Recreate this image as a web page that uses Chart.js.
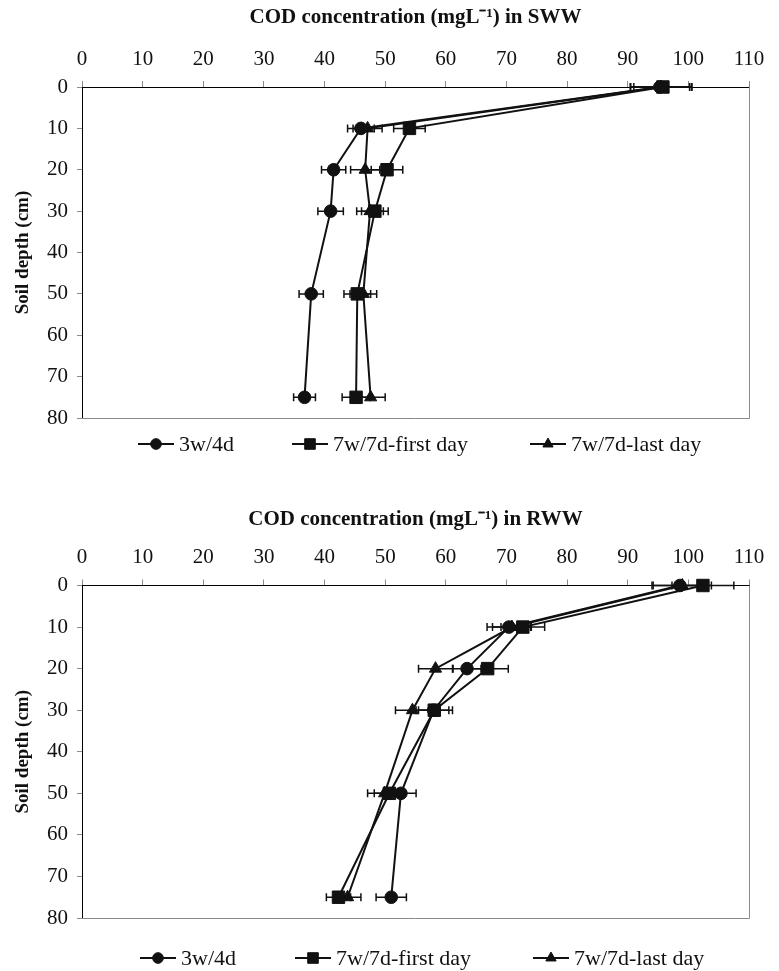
<!DOCTYPE html>
<html>
<head>
<meta charset="utf-8">
<script src="https://cdn.jsdelivr.net/npm/chart.js@4.4.1/dist/chart.umd.min.js"></script>
<style>
  html, body { margin: 0; padding: 0; background: #fff; }
  body { width: 779px; height: 971px; position: relative; overflow: hidden; font-family: "Liberation Serif", serif; }
  .wrap { position: absolute; left: 0; width: 779px; }
  .legend { position: absolute; left: 0; width: 779px; height: 24px; }
  .item { position: absolute; top: 0; display: flex; align-items: center; font-size: 22px; line-height: 24px; color: #111; white-space: nowrap; }
  .item canvas { margin-right: 5px; }
</style>
</head>
<body>
<div class="wrap" style="top:0;height:485px"><canvas id="sww" width="779" height="485"></canvas></div>
<div class="legend" id="legSww" style="top:432px"></div>
<div class="wrap" style="top:500px;height:471px"><canvas id="rww" width="779" height="471"></canvas></div>
<div class="legend" id="legRww" style="top:946px"></div>

<script>
// soil depths (cm) sampled, shared by both panels
const depths = [0, 10, 20, 30, 50, 75];
const seriesNames = ["3w/4d", "7w/7d-first day", "7w/7d-last day"];
const xTicks = [0, 10, 20, 30, 40, 50, 60, 70, 80, 90, 100, 110];
const yTicks = [0, 10, 20, 30, 40, 50, 60, 70, 80];

// COD in SWW (mg/L) and +/- error
const sww3w4d = [95.3, 46.0, 41.5, 41.0, 37.8, 36.7];
const sww3w4dErr = [4.9, 2.2, 2.0, 2.1, 2.0, 1.8];
const swwFirst = [95.8, 54.0, 50.3, 48.3, 45.4, 45.2];
const swwFirstErr = [4.8, 2.6, 2.6, 2.2, 2.2, 2.3];
const swwLast = [95.5, 47.1, 46.7, 47.5, 46.4, 47.6];
const swwLastErr = [5.0, 2.4, 2.4, 2.2, 2.2, 2.4];

// COD in RWW (mg/L) and +/- error
const rww3w4d = [98.6, 70.4, 63.5, 58.0, 52.6, 51.0];
const rww3w4dErr = [4.6, 3.6, 2.3, 2.5, 2.5, 2.5];
const rwwFirst = [102.4, 72.7, 66.9, 58.1, 50.7, 42.3];
const rwwFirstErr = [5.1, 3.6, 3.4, 3.0, 2.5, 2.0];
const rwwLast = [99.0, 70.9, 58.3, 54.5, 49.9, 43.8];
const rwwLastErr = [4.8, 3.2, 2.8, 2.8, 2.8, 2.2];

const INK = '#111';
const FONT = '"Liberation Serif", "Times New Roman", serif';
const pointStyles = [
  { style: 'circle', radius: 6.3 },
  { style: 'rect', radius: 8.8 },
  { style: 'triangle', radius: 7 }
];
// square on top, triangle at the bottom
const drawOrder = [1, 0, 2];

// horizontal error bars, drawn under the markers
const errorBars = {
  id: 'errorBars',
  beforeDatasetsDraw(chart) {
    const ctx = chart.ctx;
    const xs = chart.scales.x, ys = chart.scales.y;
    ctx.save();
    ctx.strokeStyle = INK;
    ctx.lineWidth = 1.5;
    chart.data.datasets.forEach(ds => {
      ds.data.forEach((p, i) => {
        const e = ds.errors[i];
        const y = ys.getPixelForValue(p.y);
        const x0 = xs.getPixelForValue(p.x - e);
        const x1 = xs.getPixelForValue(p.x + e);
        ctx.beginPath();
        ctx.moveTo(x0, y); ctx.lineTo(x1, y);
        ctx.moveTo(x0, y - 4); ctx.lineTo(x0, y + 4);
        ctx.moveTo(x1, y - 4); ctx.lineTo(x1, y + 4);
        ctx.stroke();
      });
    });
    ctx.restore();
  }
};

// grey right and bottom edges of the plot area
const plotFrame = {
  id: 'plotFrame',
  beforeDatasetsDraw(chart) {
    const { ctx, chartArea: a } = chart;
    ctx.save();
    ctx.strokeStyle = '#8a8a8a';
    ctx.lineWidth = 1;
    ctx.beginPath();
    ctx.moveTo(a.left, Math.round(a.bottom) + 0.5);
    ctx.lineTo(Math.round(a.right) + 0.5, Math.round(a.bottom) + 0.5);
    ctx.lineTo(Math.round(a.right) + 0.5, a.top);
    ctx.stroke();
    ctx.restore();
  }
};

function makeChart(id, legendId, titleText, values, errors, geo) {
  const datasets = values.map((vals, k) => ({
    label: seriesNames[k],
    data: vals.map((v, i) => ({ x: v, y: depths[i] })),
    errors: errors[k],
    showLine: true,
    borderColor: INK,
    backgroundColor: INK,
    borderWidth: 2,
    pointStyle: pointStyles[k].style,
    pointRadius: pointStyles[k].radius,
    pointBorderWidth: 1,
    pointBackgroundColor: INK,
    pointBorderColor: INK,
    tension: 0,
    clip: false,
    order: drawOrder[k]
  }));

  const chart = new Chart(document.getElementById(id), {
    type: 'scatter',
    data: { datasets },
    plugins: [errorBars, plotFrame],
    options: {
      responsive: false,
      animation: false,
      layout: { padding: { left: 0, right: 30, top: 0, bottom: geo.padBottom } },
      plugins: {
        legend: { display: false },
        tooltip: { enabled: false },
        title: {
          display: true,
          text: titleText,
          fullSize: false,
          color: INK,
          font: { family: FONT, size: 21, weight: 'bold', lineHeight: 1.2 },
          padding: { top: geo.titleTop, bottom: 0 }
        }
      },
      scales: {
        x: {
          type: 'linear',
          position: 'top',
          min: 0, max: 110,
          afterBuildTicks: s => { s.ticks = xTicks.map(v => ({ value: v })); },
          afterFit: s => { s.height = geo.xAxisHeight; },
          border: { color: '#000', width: 1 },
          grid: { drawOnChartArea: false, drawTicks: true, tickLength: 6, color: '#8a8a8a' },
          ticks: { color: INK, padding: 9, maxRotation: 0, font: { family: FONT, size: 21, lineHeight: 1.2 } }
        },
        y: {
          type: 'linear',
          position: 'left',
          reverse: true,
          min: 0, max: 80,
          afterBuildTicks: s => { s.ticks = yTicks.map(v => ({ value: v })); },
          afterFit: s => { s.width = 82; },
          border: { color: '#000', width: 1 },
          grid: { drawOnChartArea: false, drawTicks: true, tickLength: 5, color: '#8a8a8a' },
          ticks: { color: INK, padding: 9, font: { family: FONT, size: 21, lineHeight: 1.2 } },
          title: {
            display: true,
            text: 'Soil depth (cm)',
            color: INK,
            font: { family: FONT, size: 19, weight: 'bold', lineHeight: 1.2 },
            padding: { top: 12, bottom: 0 }
          }
        }
      }
    }
  });

  // html legend: line with marker, then the series name
  const box = document.getElementById(legendId);
  chart.data.datasets.forEach((ds, k) => {
    const item = document.createElement('div');
    item.className = 'item';
    item.style.left = geo.legendX[k] + 'px';
    const c = document.createElement('canvas');
    c.width = 36; c.height = 16;
    const g = c.getContext('2d');
    g.strokeStyle = INK; g.fillStyle = INK; g.lineWidth = 2;
    g.beginPath(); g.moveTo(0, 8); g.lineTo(36, 8); g.stroke();
    g.lineWidth = 1;
    Chart.helpers.drawPoint(g, { pointStyle: pointStyles[k].style, radius: pointStyles[k].radius * 0.85, rotation: 0, borderWidth: 1 }, 18, 8);
    item.appendChild(c);
    const t = document.createElement('span');
    t.textContent = ds.label;
    item.appendChild(t);
    box.appendChild(item);
  });
  return chart;
}

makeChart('sww', 'legSww', 'COD concentration (mgL\u207B\u00B9) in SWW',
  [sww3w4d, swwFirst, swwLast], [sww3w4dErr, swwFirstErr, swwLastErr],
  { titleTop: 5.4, xAxisHeight: 56.4, padBottom: 67, legendX: [138, 292, 530] });

makeChart('rww', 'legRww', 'COD concentration (mgL\u207B\u00B9) in RWW',
  [rww3w4d, rwwFirst, rwwLast], [rww3w4dErr, rwwFirstErr, rwwLastErr],
  { titleTop: 7.4, xAxisHeight: 52.9, padBottom: 53, legendX: [140, 295, 533] });
</script>
</body>
</html>
